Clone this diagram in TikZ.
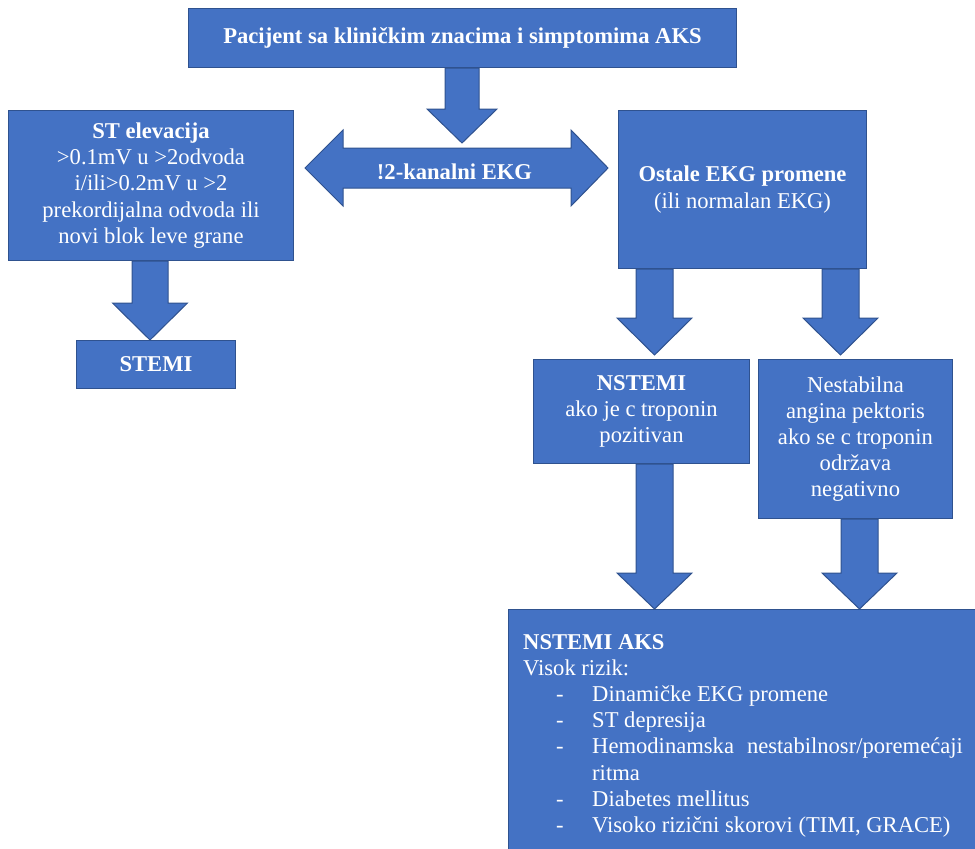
\documentclass[tikz,border=0pt]{standalone}
\usepackage{fontspec}
\setmainfont{Liberation Serif}
\usetikzlibrary{calc}
\definecolor{boxfill}{HTML}{4472C4}
\definecolor{boxline}{HTML}{2F528F}
\tikzset{
  blk/.style={fill=boxfill, draw=boxline, line width=1pt, line join=miter},
  box/.style={blk, rectangle, inner sep=0pt, anchor=north west, text=white,
    align=center, font=\fontsize{22.6}{26.2}\selectfont},
  txt/.style={inner sep=0pt, text=white, font=\fontsize{22.6}{26.2}\selectfont},
}
% block arrow pointing down: x, start point, tip point, shaft half width, head half width, head length
\newcommand\dnarrow[6]{%
  \filldraw[blk] (#1-#4,0 |- #2) -- (#1+#4,0 |- #2)
    -- ($(#1+#4,0 |- #3)+(0,-#6)$) -- ($(#1+#5,0 |- #3)+(0,-#6)$)
    -- (#1,0 |- #3)
    -- ($(#1-#5,0 |- #3)+(0,-#6)$) -- ($(#1-#4,0 |- #3)+(0,-#6)$) -- cycle;}
\begin{document}
\begin{tikzpicture}[x=1pt,y=-1pt]
\clip (0,0) rectangle (975,849);
\useasboundingbox (0,0) rectangle (975,849);

% boxes
\node[box, minimum width=548pt, minimum height=59pt] (top) at (188,8)
  {\textbf{Pacijent sa kliničkim znacima i simptomima AKS}};
\node[box, minimum width=285pt, minimum height=150pt] (st) at (8,110)
  {\textbf{ST elevacija}\\>0.1mV u >2odvoda\\i/ili>0.2mV u >2\\prekordijalna odvoda ili\\novi blok leve grane};
\node[box, minimum width=248pt, minimum height=158pt] (ost) at (618,110)
  {\textbf{Ostale EKG promene}\\(ili normalan EKG)};
\node[box, minimum width=159pt, minimum height=48pt] (stemi) at (76,340)
  {\textbf{STEMI}};
\node[box, minimum width=216pt, minimum height=104pt] (nst) at (533,359)
  {\textbf{NSTEMI}\\ako je c troponin\\pozitivan};
\node[box, minimum width=194pt, minimum height=159pt] (una) at (758,359)
  {Nestabilna\\angina pektoris\\ako se c troponin\\održava\\negativno};
\node[box, minimum width=480pt, minimum height=250pt] (aks) at (508,609) {};

% tip coordinates
\coordinate (ekgtip) at (462,143);
\coordinate (t1) at (654.5,355);
\coordinate (t2) at (840.5,355);

% block arrows
\dnarrow{462}{top.south}{ekgtip}{17}{35}{34}
\dnarrow{150}{st.south}{stemi.north}{18}{37.5}{37}
\dnarrow{654.5}{ost.south}{t1}{18.5}{37.5}{37}
\dnarrow{840.5}{ost.south}{t2}{18.5}{37.5}{37}
\dnarrow{654.5}{nst.south}{aks.north}{18.5}{37.5}{36}
\dnarrow{859.5}{una.south}{aks.north}{18.5}{37.5}{36}

% double arrow
\coordinate (ekgL) at (305,168);
\coordinate (ekgR) at (608,168);
\filldraw[blk] (ekgL) -- (343,130) -- (343,148) -- (571,148) -- (571,130) -- (ekgR)
  -- (571,206) -- (571,188) -- (343,188) -- (343,206) -- cycle;
\begin{scope}
  \clip (343,148) rectangle (571,178);
  \node[txt, anchor=base] (ekg) at (454.5,179.5) {\textbf{!2-kanalni EKG}};
\end{scope}

% bottom box text
\node[txt, anchor=base west] (l1) at (523,649.5) {\textbf{NSTEMI AKS}};
\node[txt, anchor=base west] (l2) at (523,675.6) {Visok rizik:};
\node[txt, anchor=base west] (d1) at (556,701.7) {-};
\node[txt, anchor=base west] (l3) at (592,701.7) {Dinamičke EKG promene};
\node[txt, anchor=base west] (d2) at (556,727.8) {-};
\node[txt, anchor=base west] (l4) at (592,727.8) {ST depresija};
\node[txt, anchor=base west] (d3) at (556,753.9) {-};
\node[txt, anchor=base west] (l5) at (592,753.9) {Hemodinamska\hspace{13pt}nestabilnosr/poremećaji};
\node[txt, anchor=base west] (l6) at (592,780) {ritma};
\node[txt, anchor=base west] (d4) at (556,806.1) {-};
\node[txt, anchor=base west] (l7) at (592,806.1) {Diabetes mellitus};
\node[txt, anchor=base west] (d5) at (556,832.2) {-};
\node[txt, anchor=base west] (l8) at (592,832.2) {Visoko rizični skorovi (TIMI, GRACE)};
\end{tikzpicture}
\end{document}
